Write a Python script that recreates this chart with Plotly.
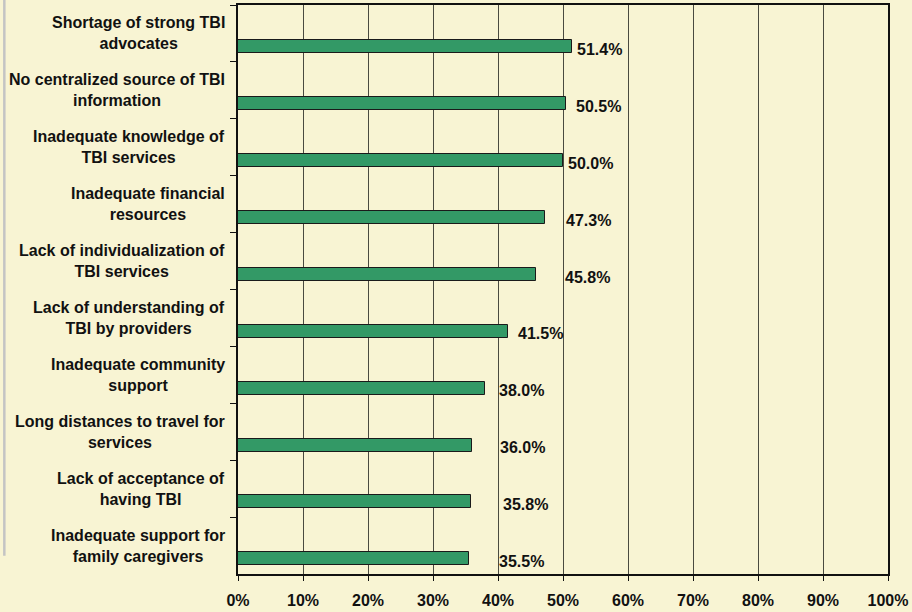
import plotly.graph_objects as go

categories = [
    "Shortage of strong TBI<br>advocates",
    "No centralized source of TBI<br>information",
    "Inadequate knowledge of<br>TBI services",
    "Inadequate financial<br>resources",
    "Lack of individualization of<br>TBI services",
    "Lack of understanding of<br>TBI by providers",
    "Inadequate community<br>support",
    "Long distances to travel for<br>services",
    "Lack of acceptance of<br>having TBI",
    "Inadequate support for<br>family caregivers",
]
values = [51.4, 50.5, 50.0, 47.3, 45.8, 41.5, 38.0, 36.0, 35.8, 35.5]
value_labels = ["51.4%", "50.5%", "50.0%", "47.3%", "45.8%", "41.5%", "38.0%", "36.0%", "35.8%", "35.5%"]
x_ticks = [0, 10, 20, 30, 40, 50, 60, 70, 80, 90, 100]
x_tick_labels = ["0%", "10%", "20%", "30%", "40%", "50%", "60%", "70%", "80%", "90%", "100%"]

# label placement (manually placed in the original chart), in axis units
label_x_pos = [52.0, 51.9, 50.55, 50.3, 50.15, 42.9, 40.0, 40.1, 40.65, 40.0]

BG = "#F8F4D3"
FONT = "Liberation Sans, Arial, sans-serif"

fig = go.Figure()
fig.add_trace(go.Bar(
    x=values,
    y=categories,
    orientation="h",
    offset=0.12,
    width=0.228,
    marker=dict(color="#339966", line=dict(color="#1a1a1a", width=1)),
    hoverinfo="x+y",
))

annotations = []
for cat in categories:
    annotations.append(dict(
        x=0, xref="paper", y=cat, yref="y",
        text="<b>%s</b>" % cat, showarrow=False,
        xanchor="right", yanchor="middle", align="center",
        xshift=-12, borderpad=0,
        font=dict(family=FONT, size=16, color="#111111"),
    ))
for cat, lx, lab in zip(categories, label_x_pos, value_labels):
    annotations.append(dict(
        x=lx, xref="x", y=cat, yref="y",
        text="<b>%s</b>" % lab, showarrow=False,
        xanchor="left", yanchor="middle",
        yshift=-16, borderpad=0,
        font=dict(family=FONT, size=16, color="#111111"),
    ))

fig.update_layout(
    width=912, height=612,
    paper_bgcolor=BG, plot_bgcolor=BG,
    margin=dict(l=238, r=24, t=5, b=38, autoexpand=False),
    showlegend=False,
    bargap=0,
    annotations=annotations,
    shapes=[dict(type="line", xref="paper", yref="paper",
                 x0=-0.3595, x1=-0.3595, y0=1.01, y1=0.032,
                 line=dict(color="#C4C4C4", width=2.5))],
    font=dict(family=FONT, size=16, color="#111111"),
)
fig.update_xaxes(
    range=[0, 100], tickvals=x_ticks, ticktext=["<b>%s</b>" % t for t in x_tick_labels],
    showgrid=True, gridcolor="#4a4a40", gridwidth=1,
    showline=True, linecolor="#111111", linewidth=1.5, mirror=True,
    ticks="outside", ticklen=5, tickcolor="#111111",
    ticklabelstandoff=6, zeroline=False, fixedrange=True,
    tickfont=dict(family=FONT, size=16, color="#111111"),
)
fig.update_yaxes(
    type="category", categoryorder="array", categoryarray=categories,
    autorange="reversed", showticklabels=False,
    tickson="boundaries", ticks="outside", ticklen=6, tickcolor="#111111",
    showline=True, linecolor="#111111", linewidth=1.5, mirror=True,
    showgrid=False, zeroline=False, fixedrange=True,
)

fig.write_html(
    "out.html",
    config={"displayModeBar": False},
    post_script="document.body.style.margin='0';document.body.style.overflow='hidden';document.body.style.background='%s';" % BG,
)
